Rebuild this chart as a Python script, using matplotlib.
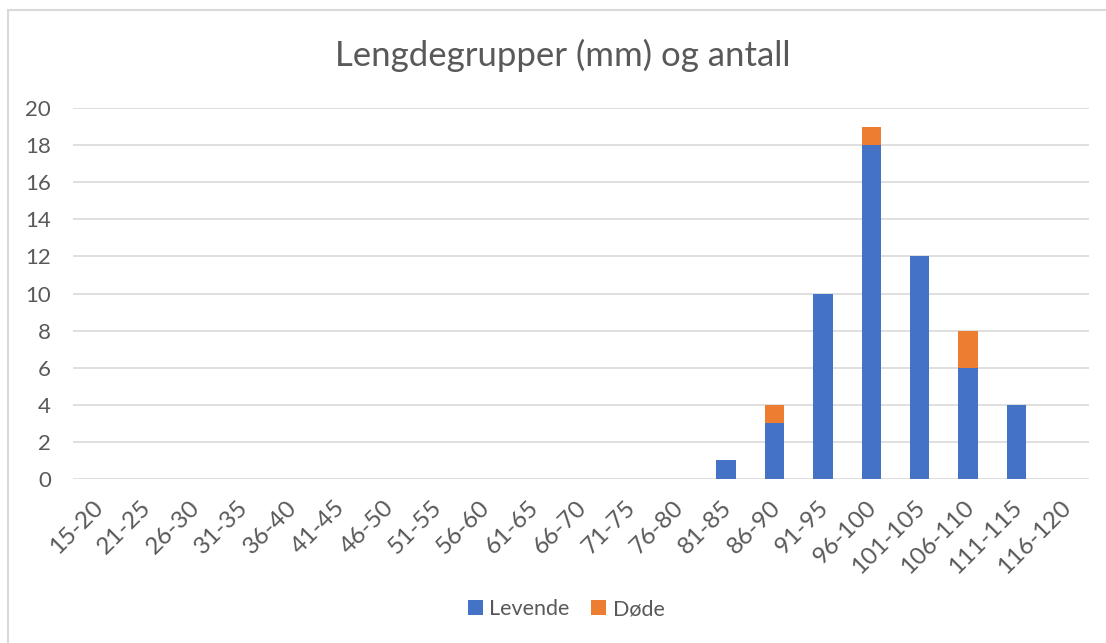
import numpy as np
import matplotlib.pyplot as plt
import matplotlib.transforms as mtransforms
from matplotlib.patches import Rectangle

plt.rcParams['font.family'] = ['Lato', 'DejaVu Sans']

# data
categories = ["15-20", "21-25", "26-30", "31-35", "36-40", "41-45", "46-50",
              "51-55", "56-60", "61-65", "66-70", "71-75", "76-80", "81-85",
              "86-90", "91-95", "96-100", "101-105", "106-110", "111-115",
              "116-120"]
levende = [0, 0, 0, 0, 0, 0, 0, 0, 0, 0, 0, 0, 0, 1, 3, 10, 18, 12, 6, 4, 0]
dode = [0, 0, 0, 0, 0, 0, 0, 0, 0, 0, 0, 0, 0, 0, 1, 0, 1, 0, 2, 0, 0]

blue = "#4472C4"
orange = "#ED7D31"
grid_c = "#D9D9D9"
text_c = "#595959"

fig = plt.figure(figsize=(11.06, 6.43), dpi=100)
# chart border (top and left visible)
fig.patches.append(Rectangle((8 / 1106, -0.1), 1.2, 1 - 10 / 643 + 0.1,
                             transform=fig.transFigure, fill=False,
                             edgecolor=grid_c, linewidth=1.5))

ax = fig.add_axes([73 / 1106, 1 - 479 / 643, (1089 - 73) / 1106, (479 - 108) / 643])
x = np.arange(len(categories))
ax.bar(x, levende, width=0.4, color=blue, label="Levende", zorder=3)
ax.bar(x, dode, width=0.4, bottom=levende, color=orange, label="Døde", zorder=3)

ax.set_xlim(-0.5, len(categories) - 0.5)
ax.set_ylim(0, 20)
ax.set_yticks(range(0, 21, 2))
ax.grid(axis="y", color=grid_c, linewidth=1.2, zorder=0)
for s in ax.spines.values():
    s.set_visible(False)
ax.tick_params(length=0, colors=text_c)
ax.tick_params(axis="y", pad=16, labelsize=16)
ax.tick_params(axis="x", pad=13, labelsize=17.5)
ax.set_xticks(x)
ax.set_xticklabels(categories, rotation=45, ha="right", rotation_mode="anchor")
shift = mtransforms.ScaledTranslation(-5 / 100, 0, fig.dpi_scale_trans)
for lab in ax.get_xticklabels():
    lab.set_transform(lab.get_transform() + shift)

fig.text(0.509, 1 - 55 / 643, "Lengdegrupper (mm) og antall", ha="center",
         va="center", fontsize=25, color=text_c)

fig.legend(loc="center", bbox_to_anchor=(0.512, 1 - 609 / 643), ncol=2,
           frameon=False, fontsize=15.5, labelcolor=text_c, handlelength=0.7,
           handleheight=0.7, handletextpad=0.3, columnspacing=1.0)

plt.savefig("out.png", dpi=100)
